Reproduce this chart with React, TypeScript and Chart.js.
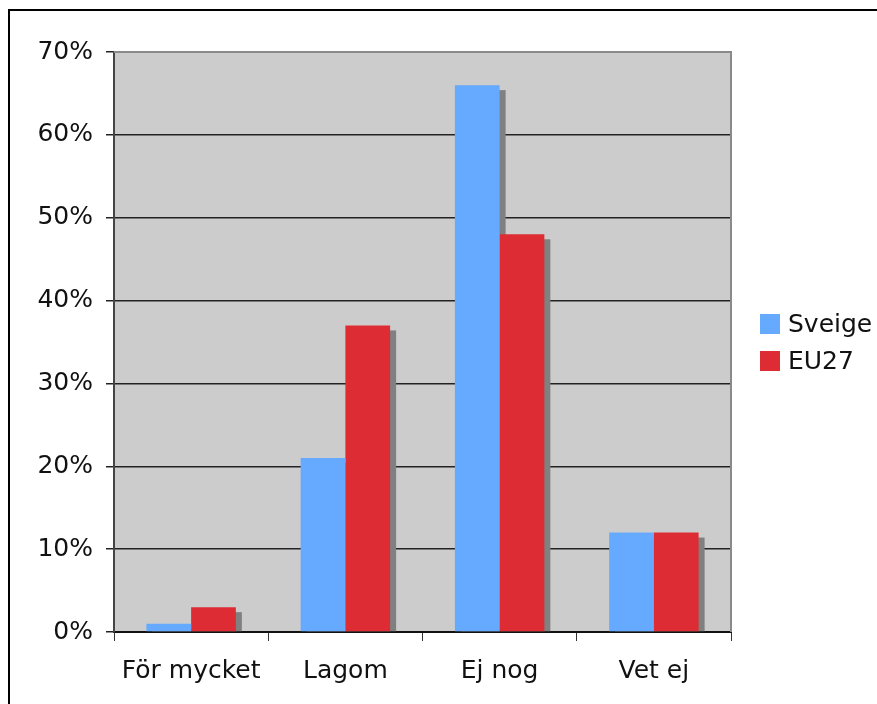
import React, { useEffect, useRef } from "react";
import { Chart, registerables } from "chart.js";

Chart.register(...registerables);

const categories = ["För mycket", "Lagom", "Ej nog", "Vet ej"];
const sveige = [1, 21, 66, 12];
const eu27 = [3, 37, 48, 12];
const seriesNames = ["Sveige", "EU27"];
const yTicksMax = 70;
const yStep = 10;

const FONT = "'DejaVu Sans', Verdana, sans-serif";
const FSIZE = 25;

const backgroundPlugin = {
  id: "plotBg",
  beforeDraw(chart: any) {
    const { ctx, chartArea: a } = chart;
    ctx.save();
    ctx.fillStyle = "#cccccc";
    ctx.fillRect(a.left, a.top, a.right - a.left, a.bottom - a.top);
    ctx.restore();
  },
  afterDraw(chart: any) {
    const { ctx, chartArea: a } = chart;
    ctx.save();
    ctx.strokeStyle = "#8a8a8a";
    ctx.lineWidth = 2;
    ctx.beginPath();
    ctx.moveTo(a.left, a.top);
    ctx.lineTo(a.right, a.top);
    ctx.lineTo(a.right, a.bottom);
    ctx.stroke();
    // legend
    ctx.font = `${FSIZE}px ${FONT}`;
    ctx.textBaseline = "middle";
    ctx.textAlign = "left";
    chart.data.datasets.forEach((ds: any, i: number) => {
      const cy = 324 + i * 37;
      ctx.fillStyle = ds.backgroundColor;
      ctx.fillRect(760, cy - 10, 20, 20);
      ctx.fillStyle = "#111";
      ctx.fillText(ds.label, 788, cy + 1);
    });
    ctx.restore();
  },
};

const shadowPlugin = {
  id: "barShadow",
  beforeDatasetsDraw(chart: any) {
    const { ctx, chartArea: a } = chart;
    ctx.save();
    ctx.beginPath();
    ctx.rect(a.left, a.top, a.right - a.left, a.bottom - a.top);
    ctx.clip();
    ctx.fillStyle = "#808080";
    chart.data.datasets.forEach((_: any, di: number) => {
      const meta = chart.getDatasetMeta(di);
      meta.data.forEach((el: any) => {
        const left = el.x - el.width / 2;
        const top = el.y + 5;
        const h = el.base - top;
        if (h > 0) ctx.fillRect(left + 6, top, el.width, h);
      });
    });
    ctx.restore();
  },
};

export default function App() {
  const ref = useRef<HTMLCanvasElement>(null);
  useEffect(() => {
    if (!ref.current) return;
    const chart = new Chart(ref.current, {
      type: "bar",
      data: {
        labels: categories,
        datasets: [
          { label: seriesNames[0], data: sveige, backgroundColor: "#66aaff", borderWidth: 0 },
          { label: seriesNames[1], data: eu27, backgroundColor: "#dd2c34", borderWidth: 0 },
        ],
      },
      options: {
        responsive: false,
        animation: false,
        devicePixelRatio: 1,
        layout: { padding: { left: 0, right: 146, top: 52, bottom: 0 } },
        datasets: { bar: { barPercentage: 1, categoryPercentage: 0.58 } },
        plugins: { legend: { display: false }, tooltip: { enabled: false } },
        scales: {
          x: {
            grid: { drawOnChartArea: false, drawTicks: true, tickLength: 9, color: "#333", offset: true },
            border: { color: "#111", width: 2 },
            ticks: { color: "#111", font: { family: FONT, size: FSIZE }, padding: 15 },
            afterFit(scale: any) {
              scale.height = 704 - 632;
            },
          },
          y: {
            min: 0,
            max: yTicksMax,
            ticks: {
              stepSize: yStep,
              color: "#111",
              font: { family: FONT, size: FSIZE },
              padding: 13,
              callback: (v: any) => v + "%",
            },
            grid: { color: "#222", lineWidth: 1.5, tickLength: 8 },
            border: { color: "#444", width: 2 },
            afterFit(scale: any) {
              scale.width = 114;
            },
          },
        },
      },
      plugins: [backgroundPlugin, shadowPlugin],
    });
    return () => chart.destroy();
  }, []);
  return (
    <div style={{ position: "absolute", left: 0, top: 0, width: 877, height: 704, background: "#fff", overflow: "hidden" }}>
      <canvas ref={ref} width={877} height={704} style={{ position: "absolute", left: 0, top: 0 }} />
      <div
        style={{
          position: "absolute",
          left: 8,
          top: 9,
          width: 880,
          height: 720,
          boxSizing: "border-box",
          borderLeft: "2px solid #000",
          borderTop: "2px solid #000",
        }}
      />
    </div>
  );
}
